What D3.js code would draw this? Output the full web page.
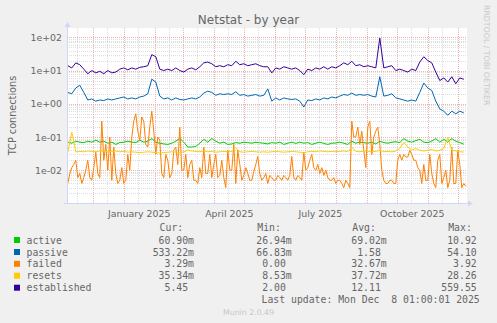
<!DOCTYPE html>
<html><head><meta charset="utf-8">
<script src="https://cdn.jsdelivr.net/npm/d3@7"></script>
<style>html,body{margin:0;padding:0;background:#f0f0f0;} svg{display:block;}</style>
</head><body>
<svg id="c" width="497" height="323"></svg>
<script>
// ---------- DATA ----------
const seriesNames = ["active","passive","failed","resets","established"];
const seriesColors = ["#00CC00","#0066B3","#FF8000","#FFCC00","#330099"];
const startDate = "2024-11-05T12:00:00Z";
const seriesStepDays = [4, 4, 2, 4, 4];

const active = [0.07,0.065,0.075,0.07,0.068,0.075,0.07,0.08,0.07,0.075,
 0.065,0.07,0.06,0.068,0.07,0.075,0.07,0.068,0.08,0.07,
 0.075,0.09,0.07,0.065,0.062,0.06,0.065,0.075,0.09,0.07,
 0.05,0.05,0.052,0.065,0.085,0.07,0.09,0.075,0.065,0.07,
 0.06,0.062,0.068,0.065,0.07,0.068,0.065,0.07,0.067,0.065,
 0.062,0.068,0.065,0.07,0.06,0.065,0.07,0.064,0.07,0.065,
 0.068,0.06,0.065,0.07,0.064,0.06,0.065,0.066,0.07,0.065,
 0.06,0.075,0.065,0.07,0.068,0.065,0.07,0.062,0.075,0.068,
 0.065,0.07,0.072,0.068,0.09,0.075,0.07,0.078,0.085,0.07,
 0.068,0.075,0.09,0.07,0.085,0.07,0.09,0.075,0.068,0.0609];

const passive = [2.2,2.0,3.0,3.6,2.2,1.3,1.4,1.2,1.3,1.25,
 1.4,1.3,1.4,1.5,1.6,1.4,1.5,1.4,1.6,1.7,
 2.0,5.5,4.5,1.7,1.4,1.5,1.3,1.5,1.35,1.3,
 1.4,1.5,1.4,1.6,2.1,2.4,2.2,1.8,2.0,1.9,
 2.0,1.9,2.3,1.8,1.9,1.7,1.8,1.9,1.7,1.8,
 2.8,1.2,1.5,1.3,1.5,1.4,1.35,1.4,1.2,0.8,
 1.3,1.25,1.4,1.3,1.5,1.4,1.6,1.5,1.7,1.9,
 1.8,2.1,1.8,1.9,1.8,1.9,1.7,1.6,6.5,1.7,
 1.8,2.0,1.5,1.4,1.3,1.2,1.3,1.2,2.2,4.2,
 3.0,2.5,1.2,0.7,0.6,0.45,0.6,0.5,0.6,0.533];

const failed = [0.004,0.008, 0.012,0.015, 0.02,0.006, 0.008,0.004, 0.006,0.01,
 0.02,0.006, 0.005,0.012, 0.035,0.008, 0.006,0.3, 0.02,0.06,
 0.01,0.1, 0.005,0.05, 0.008,0.004, 0.005,0.012, 0.004,0.005,
 0.03,0.01, 0.1,0.3, 0.5,0.15, 0.08,0.4, 0.3,0.06,
 0.05,0.2, 0.6,0.15, 0.03,0.1, 0.08,0.008, 0.006,0.03,
 0.02,0.006, 0.008,0.04, 0.05,0.015, 0.2,0.01, 0.01,0.03,
 0.006,0.015, 0.02,0.005, 0.005,0.004, 0.012,0.006, 0.05,0.008,
 0.008,0.03, 0.006,0.015, 0.03,0.006, 0.007,0.02, 0.006,0.003,
 0.04,0.01, 0.01,0.06, 0.004,0.04, 0.015,0.005, 0.007,0.012,
 0.008,0.005, 0.005,0.009, 0.015,0.026, 0.008,0.005, 0.006,0.008,
 0.004,0.007, 0.006,0.005, 0.005,0.007, 0.006,0.005, 0.007,0.006,
 0.005,0.007, 0.026,0.006, 0.005,0.007, 0.006,0.005, 0.035,0.01,
 0.012,0.02, 0.03,0.012, 0.01,0.015, 0.008,0.012, 0.007,0.01,
 0.006,0.005, 0.005,0.006, 0.004,0.005, 0.005,0.004, 0.003,0.005,
 0.004,0.003, 0.3,0.1, 0.1,0.2, 0.06,0.15, 0.04,0.012,
 0.2,0.3, 0.03,0.1, 0.15,0.2, 0.06,0.01, 0.005,0.004,
 0.004,0.005, 0.005,0.004, 0.004,0.02, 0.03,0.02, 0.03,0.025,
 0.025,0.04, 0.03,0.02, 0.02,0.012, 0.01,0.004, 0.015,0.005,
 0.005,0.03, 0.008,0.004, 0.003,0.02, 0.03,0.004, 0.006,0.01,
 0.003,0.005, 0.05,0.004, 0.004,0.04, 0.015,0.003, 0.004,0.00329];

const resets = [0.035,0.14,0.036,0.037,0.036,0.038,0.037,0.036,0.038,0.037,
 0.036,0.037,0.038,0.036,0.037,0.035,0.036,0.035,0.034,0.035,
 0.036,0.035,0.034,0.033,0.034,0.035,0.036,0.035,0.034,0.036,
 0.04,0.038,0.037,0.036,0.038,0.036,0.037,0.035,0.036,0.037,
 0.036,0.037,0.048,0.036,0.035,0.036,0.037,0.036,0.035,0.036,
 0.035,0.036,0.037,0.036,0.035,0.036,0.037,0.036,0.035,0.034,
 0.036,0.037,0.036,0.038,0.037,0.036,0.037,0.036,0.037,0.038,
 0.036,0.05,0.037,0.036,0.038,0.037,0.036,0.037,0.04,0.036,
 0.037,0.036,0.038,0.045,0.07,0.05,0.04,0.045,0.04,0.038,
 0.04,0.042,0.038,0.04,0.045,0.1,0.04,0.038,0.036,0.0353];

const established = [14,12,17,15,11,8,10,8.5,9.5,8,
 10,8.5,9,11,12,10.5,12,11,12.5,13,
 14,30,26,11,10,11,10,12,10,9,
 11,12,10.5,13,17,18,16,13,14,13,
 15,14,19,15,16,14,15,16,14,13,
 13,8.5,12,11,13,12,11,12,10,7.5,
 11,10,12,11,13,11,13,12,14,17,
 15,19,14,15,13,14,13,12,95,12,
 13,14,10,11,10,9,11,10,18,26,
 20,17,9,5,6,4.5,6.5,4,6,5.45];

const curVals = ["60.90m","533.22m","3.29m","35.34m","5.45"];
const minVals = ["26.94m","66.83m","0.00","8.53m","2.00"];
const avgVals = ["69.02m","1.58","32.67m","37.72m","12.11"];
const maxVals = ["10.92","54.10","3.92","28.26","559.55"];

const yTickValues = [1e-2,1e-1,1,10,100];
const yTickLabels = ["1e-02","1e-01","1e+00","1e+01","1e+02"];
const xLabels = ["January 2025","April 2025","July 2025","October 2025"];
const xLabelDates = ["2025-01-16T00:00:00Z","2025-04-16T00:00:00Z","2025-07-16T00:00:00Z","2025-10-16T00:00:00Z"];

const titleText = "Netstat - by year";
const yAxisTitle = "TCP connections";
const lastUpdate = "Last update: Mon Dec  8 01:00:01 2025";
const watermark = "RRDTOOL / TOBI OETIKER";
const footer = "Munin 2.0.49";

// ---------- DRAW ----------
const svg = d3.select("#c");
const L = 67, R = 467, T = 28, B = 203.5;
const fontColor = "#666666";
const axisColor = "#CFD6F8";

svg.append("rect").attr("width",497).attr("height",323).attr("fill","#f0f0f0");
svg.append("rect").attr("x",L).attr("y",T).attr("width",R-L).attr("height",B-T).attr("fill","#ffffff");

const x = d3.scaleUtc()
  .domain([new Date("2024-11-04T17:00:00Z"), new Date("2025-12-09T17:00:00Z")])
  .range([L, R]);
const y = d3.scaleLog().domain([1e-3, Math.pow(10,2.28)]).range([B, T]);

const t0 = new Date(startDate).getTime();

const grid = svg.append("g");
const minorColor = "#dedede", majorColor = "#f2b0b0";
// horizontal minor grid
const minorY = [];
for (let e = -3; e <= 2; e++) for (let m = 2; m <= 9; m++) {
  const v = m * Math.pow(10, e);
  if (v < y.domain()[1]) minorY.push(v);
}
grid.selectAll(".hmin").data(minorY).enter().append("line")
  .attr("x1",L).attr("x2",R)
  .attr("y1",d=>Math.round(y(d))+0.5).attr("y2",d=>Math.round(y(d))+0.5)
  .attr("stroke",minorColor).attr("stroke-width",1).attr("stroke-dasharray","1,1");
// vertical minor grid (mid-month)
const months = d3.utcMonth.range(d3.utcMonth.floor(x.domain()[0]), x.domain()[1]);
const midMonths = months.map(m => d3.utcDay.offset(m, 14)).filter(d => d > x.domain()[0] && d < x.domain()[1]);
grid.selectAll(".vmin").data(midMonths).enter().append("line")
  .attr("x1",d=>Math.round(x(d))+0.5).attr("x2",d=>Math.round(x(d))+0.5)
  .attr("y1",T).attr("y2",B)
  .attr("stroke",minorColor).attr("stroke-width",1).attr("stroke-dasharray","1,1");
// major grid
const monthStarts = d3.utcMonth.range(x.domain()[0], x.domain()[1]);
grid.selectAll(".vmaj").data(monthStarts).enter().append("line")
  .attr("x1",d=>Math.round(x(d))+0.5).attr("x2",d=>Math.round(x(d))+0.5)
  .attr("y1",T).attr("y2",B)
  .attr("stroke",majorColor).attr("stroke-width",1).attr("stroke-dasharray","1,1");
grid.selectAll(".hmaj").data(yTickValues).enter().append("line")
  .attr("x1",L).attr("x2",R)
  .attr("y1",d=>Math.round(y(d))+0.5).attr("y2",d=>Math.round(y(d))+0.5)
  .attr("stroke",majorColor).attr("stroke-width",1).attr("stroke-dasharray","1,1");

// series
const allSeries = [active, passive, failed, resets, established];
allSeries.forEach((s, k) => {
  const step = seriesStepDays[k]*86400000;
  const line = d3.line().x((d,i)=>x(new Date(t0 + i*step))).y(d=>y(d));
  svg.append("path").datum(s).attr("d", line)
    .attr("fill","none").attr("stroke", seriesColors[k]).attr("stroke-width",1);
});

// axes
svg.append("line").attr("x1",L+0.5).attr("x2",L+0.5).attr("y1",B).attr("y2",T-1)
  .attr("stroke",axisColor).attr("stroke-width",1);
svg.append("line").attr("x1",L-3).attr("x2",R+1).attr("y1",B).attr("y2",B)
  .attr("stroke",axisColor).attr("stroke-width",1);
svg.append("path").attr("d",`M${L-2.5},${T-1}L${L+3.5},${T-1}L${L+0.5},${T-6}Z`).attr("fill",axisColor);
svg.append("path").attr("d",`M${R+1},${B-3}L${R+1},${B+3}L${R+6},${B}Z`).attr("fill",axisColor);

// y tick labels
svg.selectAll(".ylab").data(yTickValues).enter().append("text")
  .attr("x",62).attr("y",d=>y(d)+3.5)
  .attr("text-anchor","end").attr("font-family","DejaVu Sans").attr("font-size","9.4px")
  .attr("fill",fontColor).text((d,i)=>yTickLabels[i]);
// x labels
svg.selectAll(".xlab").data(xLabelDates).enter().append("text")
  .attr("x",d=>x(new Date(d))).attr("y",216.5)
  .attr("text-anchor","middle").attr("font-family","DejaVu Sans").attr("font-size","9.4px")
  .attr("fill",fontColor).text((d,i)=>xLabels[i]);

// title
svg.append("text").attr("x",248.5).attr("y",23.5).attr("text-anchor","middle")
  .attr("font-family","DejaVu Sans").attr("font-size","12px").attr("fill",fontColor).text(titleText);
// y axis title
svg.append("text").attr("transform","translate(15.5,115.5) rotate(-90)").attr("text-anchor","middle")
  .attr("font-family","DejaVu Sans").attr("font-size","9.7px").attr("fill",fontColor).text(yAxisTitle);
// watermark
svg.append("text").attr("transform","translate(484,5) rotate(90)").attr("text-anchor","start")
  .attr("font-family","DejaVu Sans").attr("font-size","7.8px").attr("fill","#c8c8c8").text(watermark);

// legend
const fs = 9.8, cw = 0.602*fs;
const mono = "DejaVu Sans Mono";
const colRight = [194, 291.7, 386.7, 482.6];
const headers = ["Cur:","Min:","Avg:","Max:"];
const colVals = [curVals, minVals, avgVals, maxVals];
const headerY = 231;
headers.forEach((h,j)=>{
  svg.append("text").attr("x",colRight[j]-2*cw+1).attr("y",headerY).attr("text-anchor","end")
    .attr("font-family",mono).attr("font-size",fs+"px").attr("fill",fontColor).text(h);
});
const rowY = [243.5,255.5,267.3,279.2,291.2];
seriesNames.forEach((n,k)=>{
  svg.append("rect").attr("x",14).attr("y",rowY[k]-6.5).attr("width",6).attr("height",6).attr("fill",seriesColors[k]);
  svg.append("text").attr("x",26.5).attr("y",rowY[k]).attr("font-family",mono).attr("font-size",fs+"px")
    .attr("fill",fontColor).text(n);
  colVals.forEach((vals,j)=>{
    const v = vals[k];
    const hasSuffix = /[a-zA-Z]$/.test(v);
    svg.append("text").attr("x",colRight[j] - (hasSuffix?0:cw)).attr("y",rowY[k]).attr("text-anchor","end")
      .attr("font-family",mono).attr("font-size",fs+"px").attr("fill",fontColor).text(v);
  });
});
svg.append("text").attr("x",261.5).attr("y",303.3).attr("font-family",mono).attr("font-size",fs+"px")
  .attr("fill",fontColor).style("white-space","pre").text(lastUpdate);
svg.append("text").attr("x",248.5).attr("y",315).attr("text-anchor","middle").attr("font-family","DejaVu Sans")
  .attr("font-size","7.8px").attr("fill","#c8c8c8").text(footer);
</script>
</body></html>
